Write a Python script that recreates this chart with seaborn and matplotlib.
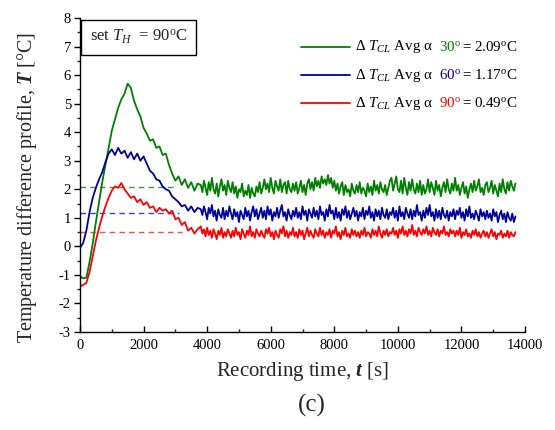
import numpy as np
import pandas as pd
import matplotlib
matplotlib.use("Agg")
import matplotlib.pyplot as plt
import seaborn as sns
from matplotlib.offsetbox import AnchoredOffsetbox, HPacker, VPacker, TextArea, DrawingArea
from matplotlib.lines import Line2D
from matplotlib.ticker import MultipleLocator

# ---------------- data ----------------
time_s = list(range(0, 3800, 100)) + list(range(3800, 13750, 50))

dT_30 = [-1.05, -1.12, -1.10, -0.55, 0.10, 0.85, 1.55, 2.25, 2.85, 3.45,
         4.05, 4.45, 4.85, 5.15, 5.35, 5.70, 5.55, 5.10, 4.80, 4.55,
         4.15, 3.95, 3.70, 3.75, 3.45, 3.50, 3.20, 3.25, 2.85, 2.55,
         2.30, 2.45, 2.15, 2.35, 2.05, 2.25, 1.95, 2.20,
         2.15, 1.90, 2.30, 2.05, 1.80, 2.25, 1.95, 2.40, 2.00, 1.85, 2.20, 1.75, 2.10, 2.35, 1.95, 2.15, 1.80, 2.30, 2.05, 1.90,
         2.25, 1.85, 2.10, 1.70, 2.00, 1.90, 2.20, 1.75, 1.95, 1.80, 2.15, 1.70, 2.05, 1.85, 1.75, 2.10, 1.90, 2.25, 1.85, 2.05,
         2.35, 2.00, 2.20, 1.90, 2.40, 2.05, 1.85, 2.30, 2.10, 1.95, 2.35, 1.90, 2.15, 2.25, 1.85, 2.30, 2.00, 1.90, 2.20, 1.95,
         2.25, 1.85, 2.05, 2.30, 1.90, 2.15, 1.80, 2.20, 2.35, 2.00, 2.25, 1.95, 2.40, 2.10, 2.30, 2.05, 2.45, 2.20, 2.35, 2.15,
         2.50, 2.20, 2.40, 2.05, 2.30, 1.95, 2.20, 1.85, 2.10, 2.25, 1.80, 2.15, 1.90, 2.00, 1.75, 2.20, 1.95, 1.85, 2.15, 1.90,
         2.25, 1.85, 2.05, 1.95, 1.75, 2.20, 1.90, 2.10, 1.80, 2.30, 1.95, 2.15, 1.85, 2.25, 2.00, 1.90, 2.15, 1.80, 2.05, 2.30,
         2.40, 1.95, 2.20, 2.45, 2.00, 1.90, 2.30, 1.85, 2.40, 2.05, 1.80, 2.25, 1.95, 2.35, 2.00, 1.85, 2.20, 1.90, 2.30, 1.80,
         2.15, 1.85, 2.00, 2.35, 1.90, 2.25, 2.05, 1.80, 2.30, 1.95, 2.15, 1.75, 2.05, 2.25, 1.90, 2.35, 2.00, 1.85, 2.20, 1.95,
         2.40, 1.95, 2.15, 1.80, 2.05, 2.25, 1.85, 2.10, 1.70, 2.00, 2.20, 1.90, 2.30, 1.95, 2.10, 2.35, 1.90, 2.05, 1.80, 2.15,
         2.25, 1.90, 2.05, 2.30, 1.85, 2.15, 1.95, 1.75, 2.20, 1.90, 2.35, 2.00, 1.85, 2.25, 1.95, 2.30, 2.10, 1.95, 2.20]

dT_60 = [-0.05, 0.12, 0.55, 1.20, 1.70, 2.05, 2.35, 2.60, 2.95, 3.25,
         3.40, 3.20, 3.45, 3.25, 3.35, 3.10, 3.30, 3.05, 3.25, 3.00,
         3.15, 2.90, 2.65, 2.55, 2.35, 2.30, 2.10, 2.00, 1.95, 1.75,
         1.65, 1.55, 1.40, 1.45, 1.25, 1.40, 1.20, 1.35,
         1.30, 1.10, 1.40, 1.20, 0.95, 1.35, 1.15, 1.45, 1.05, 1.25, 0.90, 1.30, 1.10, 1.00, 1.35, 0.95, 1.25, 1.05, 1.40, 1.15,
         0.95, 1.30, 1.05, 1.20, 0.85, 1.25, 1.10, 0.95, 1.35, 1.05, 1.25, 0.90, 1.20, 1.40, 1.05, 1.30, 0.95, 1.15, 1.35, 1.00,
         1.25, 0.95, 1.40, 1.10, 1.30, 0.90, 1.20, 1.05, 1.35, 1.00, 1.25, 1.45, 1.05, 1.20, 0.90, 1.30, 1.10, 0.95, 1.25, 1.05,
         1.35, 1.00, 1.20, 0.95, 1.40, 1.10, 1.25, 0.90, 1.30, 1.15, 1.00, 1.35, 1.05, 1.25, 0.95, 1.40, 1.10, 1.20, 0.90, 1.30,
         1.05, 1.45, 1.15, 1.25, 0.95, 1.35, 1.00, 1.20, 0.90, 1.30, 1.10, 1.40, 1.00, 1.25, 0.95, 1.15, 1.35, 1.05, 1.25, 0.90,
         1.20, 1.05, 1.35, 0.95, 1.25, 1.10, 1.40, 1.00, 1.20, 0.90, 1.30, 1.05, 1.25, 0.95, 1.35, 1.10, 1.00, 1.30, 0.95, 1.20,
         1.10, 1.35, 1.00, 1.25, 0.90, 1.40, 1.05, 1.20, 0.95, 1.35, 1.15, 1.00, 1.30, 0.95, 1.25, 1.05, 1.45, 1.10, 1.20, 0.90,
         1.25, 1.00, 1.35, 1.10, 1.45, 1.05, 1.20, 0.90, 1.30, 1.00, 1.25, 0.95, 1.35, 1.10, 1.00, 1.25, 0.90, 1.20, 1.05, 1.30,
         0.95, 1.25, 1.10, 1.35, 1.00, 1.20, 0.90, 1.30, 1.05, 1.40, 1.00, 1.15, 0.95, 1.25, 1.10, 0.90, 1.30, 1.05, 1.20, 0.95,
         1.25, 1.00, 1.15, 0.90, 1.30, 1.05, 1.20, 0.85, 1.10, 1.25, 0.95, 1.15, 0.85, 1.20, 1.00, 0.90, 1.15, 0.85, 1.05]

dT_90 = [-1.40, -1.35, -1.28, -0.90, -0.35, 0.20, 0.65, 1.05, 1.40, 1.70,
         1.95, 2.10, 2.05, 2.22, 2.00, 1.85, 1.70, 1.75, 1.55, 1.65,
         1.45, 1.55, 1.35, 1.40, 1.20, 1.35, 1.25, 1.30, 1.15, 1.25,
         0.95, 1.00, 0.75, 0.85, 0.55, 0.65, 0.45, 0.60,
         0.70, 0.45, 0.60, 0.35, 0.65, 0.40, 0.55, 0.30, 0.60, 0.45, 0.25, 0.55, 0.40, 0.65, 0.30, 0.50, 0.35, 0.60, 0.45, 0.30,
         0.55, 0.35, 0.65, 0.40, 0.50, 0.25, 0.60, 0.45, 0.30, 0.55, 0.40, 0.70, 0.35, 0.50, 0.30, 0.60, 0.45, 0.35, 0.55, 0.40,
         0.30, 0.60, 0.45, 0.65, 0.35, 0.50, 0.25, 0.55, 0.40, 0.30, 0.60, 0.45, 0.70, 0.35, 0.55, 0.30, 0.50, 0.40, 0.65, 0.35,
         0.50, 0.30, 0.60, 0.40, 0.55, 0.25, 0.45, 0.65, 0.35, 0.55, 0.40, 0.30, 0.60, 0.45, 0.35, 0.65, 0.40, 0.55, 0.30, 0.50,
         0.40, 0.60, 0.30, 0.55, 0.45, 0.70, 0.35, 0.50, 0.25, 0.55, 0.40, 0.65, 0.35, 0.45, 0.30, 0.60, 0.40, 0.55, 0.35, 0.50,
         0.30, 0.55, 0.40, 0.65, 0.35, 0.50, 0.45, 0.30, 0.60, 0.40, 0.55, 0.35, 0.70, 0.45, 0.30, 0.55, 0.40, 0.60, 0.35, 0.50,
         0.45, 0.65, 0.40, 0.55, 0.30, 0.60, 0.45, 0.70, 0.40, 0.55, 0.35, 0.60, 0.45, 0.75, 0.40, 0.55, 0.35, 0.65, 0.50, 0.40,
         0.60, 0.45, 0.70, 0.40, 0.55, 0.35, 0.65, 0.50, 0.40, 0.60, 0.35, 0.55, 0.45, 0.70, 0.40, 0.50, 0.35, 0.60, 0.45, 0.55,
         0.35, 0.55, 0.40, 0.65, 0.30, 0.50, 0.40, 0.60, 0.35, 0.45, 0.30, 0.55, 0.40, 0.60, 0.35, 0.50, 0.30, 0.45, 0.55, 0.35,
         0.50, 0.30, 0.45, 0.60, 0.35, 0.50, 0.25, 0.45, 0.40, 0.55, 0.30, 0.45, 0.35, 0.55, 0.30, 0.50, 0.40, 0.35, 0.50]

angle_labels = ["30", "60", "90"]
avg_values = [2.09, 1.17, 0.49]
dash_end_s = [3000, 3100, 3200]
series_colors = ["#008000", "#0000A0", "#FF0000"]
dash_colors = ["#3C9A3C", "#3C3CD8", "#FF4A4A"]

# ---------------- style ----------------
sns.set_theme(style="ticks")
plt.rcParams["font.family"] = ["Liberation Serif", "DejaVu Serif"]
plt.rcParams["mathtext.fontset"] = "custom"
plt.rcParams["mathtext.rm"] = "Liberation Serif"
plt.rcParams["mathtext.it"] = "Liberation Serif:italic"
plt.rcParams["mathtext.bf"] = "Liberation Serif:bold"
plt.rcParams["mathtext.bfit"] = "Liberation Serif:italic:bold"
plt.rcParams["axes.linewidth"] = 1.0
plt.rcParams["axes.unicode_minus"] = False

n = len(time_s)
df = pd.DataFrame({
    "time": time_s * 3,
    "dT": dT_30 + dT_60 + dT_90,
    "angle": [angle_labels[0]] * n + [angle_labels[1]] * n + [angle_labels[2]] * n,
})

fig = plt.figure(figsize=(5.55, 4.30), dpi=100)
ax = fig.add_axes([80 / 555, 1 - 332 / 430, 445 / 555, 314 / 430])

# dashed average lines (drawn first, under the curves)
for avg, xend, dc in zip(avg_values, dash_end_s, dash_colors):
    ax.hlines(avg, 0, xend, colors=dc, linestyles=(0, (4, 3)), lw=1.0, zorder=1)

sns.lineplot(data=df, x="time", y="dT", hue="angle",
             palette=dict(zip(angle_labels, series_colors)),
             linewidth=1.3, legend=False, ax=ax, zorder=2)

ax.set_xlim(0, 14000)
ax.set_ylim(-3, 8)
ax.xaxis.set_major_locator(MultipleLocator(2000))
ax.xaxis.set_minor_locator(MultipleLocator(1000))
ax.yaxis.set_major_locator(MultipleLocator(1))
ax.yaxis.set_minor_locator(MultipleLocator(0.5))
ax.tick_params(axis="x", which="major", direction="in", length=4.5, width=1.0,
               labelsize=10.5, pad=5, colors="black")
ax.tick_params(axis="x", which="minor", direction="in", length=2.5, width=1.0)
ax.tick_params(axis="y", which="major", direction="out", length=4.5, width=1.0,
               labelsize=10.5, pad=2, colors="black")
ax.tick_params(axis="y", which="minor", direction="out", length=2.5, width=1.0)
sns.despine(ax=ax)
for s in ("left", "bottom"):
    ax.spines[s].set_color("black")

ax.set_xlabel(r"Recording time, $\mathbfit{t}$ [s]", fontsize=15, labelpad=6)
ax.set_ylabel(r"Temperature difference profile, $\mathbfit{T}$ [°C]", fontsize=14.5)
ax.yaxis.set_label_coords(-0.093, 0.46)

# set T_H box
ax.text(0.022, 0.968, r"set $T_{H}$  = 90$^{\mathrm{o}}$C", transform=ax.transAxes,
        ha="left", va="top", fontsize=12,
        bbox=dict(boxstyle="square,pad=0.5", fc="white", ec="black", lw=1.0))

# legend with coloured angle values
rows = []
for ang, avg, col in zip(angle_labels, avg_values, series_colors):
    da = DrawingArea(35, 8, 0, 0)
    da.add_artist(Line2D([0, 35], [4, 4], color=col, lw=1.3))
    t1 = TextArea(r"Δ $T_{CL}$ Avg α", textprops=dict(size=10.8, color="black"))
    t2 = TextArea(ang + r"$^{\mathrm{o}}$", textprops=dict(size=10.8, color=col))
    t3 = TextArea("= %.2f$^{\\mathrm{o}}$C" % avg, textprops=dict(size=10.8, color="black"))
    inner = HPacker(children=[t2, t3], align="center", pad=0, sep=1)
    rows.append(HPacker(children=[da, t1, inner], align="center", pad=0, sep=4))
box = VPacker(children=rows, align="left", pad=0, sep=8)
anch = AnchoredOffsetbox(loc="upper left", child=box, pad=0, borderpad=0,
                         frameon=False, bbox_to_anchor=(0.497, 0.935),
                         bbox_transform=ax.transAxes)
ax.add_artist(anch)

fig.text(312 / 555, 1 - 405 / 430, "(c)", ha="center", va="center", fontsize=18)

fig.savefig("out.png", dpi=100)
